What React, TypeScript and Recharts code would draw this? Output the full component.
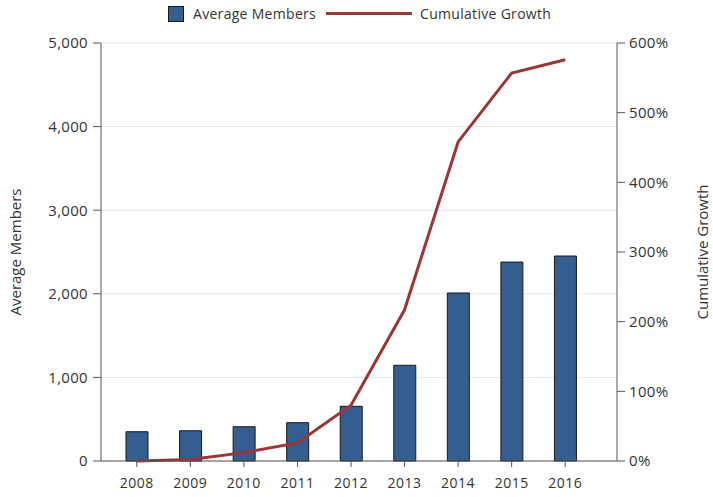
import { ComposedChart, Bar, Line, XAxis, YAxis, CartesianGrid } from 'recharts';

const years = ['2008', '2009', '2010', '2011', '2012', '2013', '2014', '2015', '2016'];
const avgMembers = [350, 362, 410, 458, 654, 1145, 2010, 2380, 2452];
const cumulativeGrowth = [0, 2, 12, 26, 80, 217, 458, 557, 576];
const leftTicks = [0, 1000, 2000, 3000, 4000, 5000];
const rightTicks = [0, 100, 200, 300, 400, 500, 600];

const BAR_COLOR = '#355d8f';
const LINE_COLOR = '#9b3636';
const AXIS_COLOR = '#555';
const TEXT_COLOR = '#333';
const FONT = '"Open Sans", sans-serif';

const data = years.map((year, i) => ({
  year,
  members: avgMembers[i],
  growth: cumulativeGrowth[i],
}));

function ChartLegend() {
  return (
    <div
      style={{
        position: 'absolute',
        top: 4,
        left: 168,
        display: 'flex',
        alignItems: 'center',
        fontFamily: FONT,
        fontSize: 14,
        letterSpacing: 0.3,
        color: TEXT_COLOR,
      }}
    >
      <div style={{ width: 14, height: 14, background: BAR_COLOR, border: '1px solid #1a1a1a' }} />
      <span style={{ marginLeft: 9 }}>Average Members</span>
      <div style={{ width: 86, height: 3, background: LINE_COLOR, marginLeft: 10 }} />
      <span style={{ marginLeft: 8 }}>Cumulative Growth</span>
    </div>
  );
}

export default function App() {
  return (
    <div style={{ position: 'absolute', top: 0, left: 0, width: 713, height: 497, background: '#fff' }}>
      <ChartLegend />
      <ComposedChart
        width={713}
        height={497}
        data={data}
        margin={{ top: 43, right: 0, bottom: 0, left: 0 }}
        style={{ fontFamily: FONT }}
      >
        <CartesianGrid yAxisId="left" vertical={false} stroke="#e8e8e8" />
        <XAxis
          dataKey="year"
          height={36}
          padding={{ left: 9, right: 25 }}
          tickSize={6}
          tickMargin={11}
          stroke={AXIS_COLOR}
          tick={{ fill: TEXT_COLOR, fontSize: 14, letterSpacing: 0.5 }}
        />
        <YAxis
          yAxisId="left"
          orientation="left"
          width={101}
          domain={[0, 5000]}
          ticks={leftTicks}
          tickFormatter={(v: number) => v.toLocaleString('en-US')}
          tickSize={8}
          tickMargin={5}
          stroke={AXIS_COLOR}
          tick={{ fill: TEXT_COLOR, fontSize: 15, letterSpacing: 0.3 }}
          label={{
            value: 'Average Members',
            angle: -90,
            position: 'insideLeft',
            offset: 16,
            style: { textAnchor: 'middle', fill: TEXT_COLOR, fontSize: 15 },
          }}
        />
        <YAxis
          yAxisId="right"
          orientation="right"
          width={96}
          domain={[0, 600]}
          ticks={rightTicks}
          tickFormatter={(v: number) => `${v}%`}
          tickSize={8}
          tickMargin={4}
          stroke={AXIS_COLOR}
          tick={{ fill: TEXT_COLOR, fontSize: 15, letterSpacing: 0.3 }}
          label={{
            value: 'Cumulative Growth',
            angle: -90,
            position: 'insideRight',
            offset: 10,
            style: { textAnchor: 'middle', fill: TEXT_COLOR, fontSize: 15 },
          }}
        />
        <Bar
          yAxisId="left"
          dataKey="members"
          fill={BAR_COLOR}
          stroke="#1a1a1a"
          strokeWidth={1}
          barSize={22}
          isAnimationActive={false}
        />
        <Line
          yAxisId="right"
          dataKey="growth"
          stroke={LINE_COLOR}
          strokeWidth={3}
          dot={false}
          type="linear"
          isAnimationActive={false}
        />
      </ComposedChart>
    </div>
  );
}
